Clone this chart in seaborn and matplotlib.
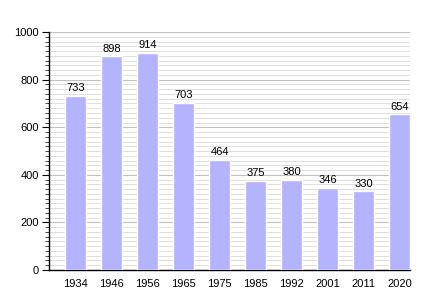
import matplotlib
matplotlib.use("Agg")
import matplotlib.pyplot as plt
import seaborn as sns
import pandas as pd
from matplotlib.ticker import MultipleLocator

years = ["1934", "1946", "1956", "1965", "1975", "1985", "1992", "2001", "2011", "2020"]
population = [733, 898, 914, 703, 464, 375, 380, 346, 330, 654]

sns.set_style("white")
plt.rcParams['font.family'] = ['Liberation Sans', 'DejaVu Sans']

df = pd.DataFrame({"year": years, "pop": population})

fig = plt.figure(figsize=(4.4, 3.0), dpi=100)
ax = fig.add_axes([0.111, 0.1, 0.821, 0.793])

sns.barplot(data=df, x="year", y="pop", color="#b3b3ff", saturation=1, width=0.58, ax=ax, zorder=3)

ax.set_ylim(0, 1000)
ax.set_xlim(-0.75, 9.29)
ax.yaxis.set_major_locator(MultipleLocator(200))
ax.yaxis.set_minor_locator(MultipleLocator(20))
ax.grid(which="major", axis="y", color="#c0c0c0", linewidth=0.8, zorder=0)
ax.grid(which="minor", axis="y", color="#dedede", linewidth=0.7, zorder=0)
ax.set_axisbelow(True)

for s in ["top", "right"]:
    ax.spines[s].set_visible(False)
ax.spines["left"].set_color("black")
ax.spines["bottom"].set_color("black")
ax.spines["left"].set_linewidth(1.0)
ax.spines["bottom"].set_linewidth(1.0)

ax.tick_params(axis="y", which="major", left=True, length=5, width=0.8, labelsize=8, pad=2, colors="black")
ax.tick_params(axis="y", which="minor", left=True, length=3, width=0.6)
ax.tick_params(axis="x", bottom=False, labelsize=8, pad=3, colors="black")

for i, v in enumerate(population):
    ax.text(i, v + 12, str(v), ha="center", va="bottom", fontsize=8, color="black")

ax.set_xlabel("")
ax.set_ylabel("")
fig.savefig("out.png", dpi=100)
